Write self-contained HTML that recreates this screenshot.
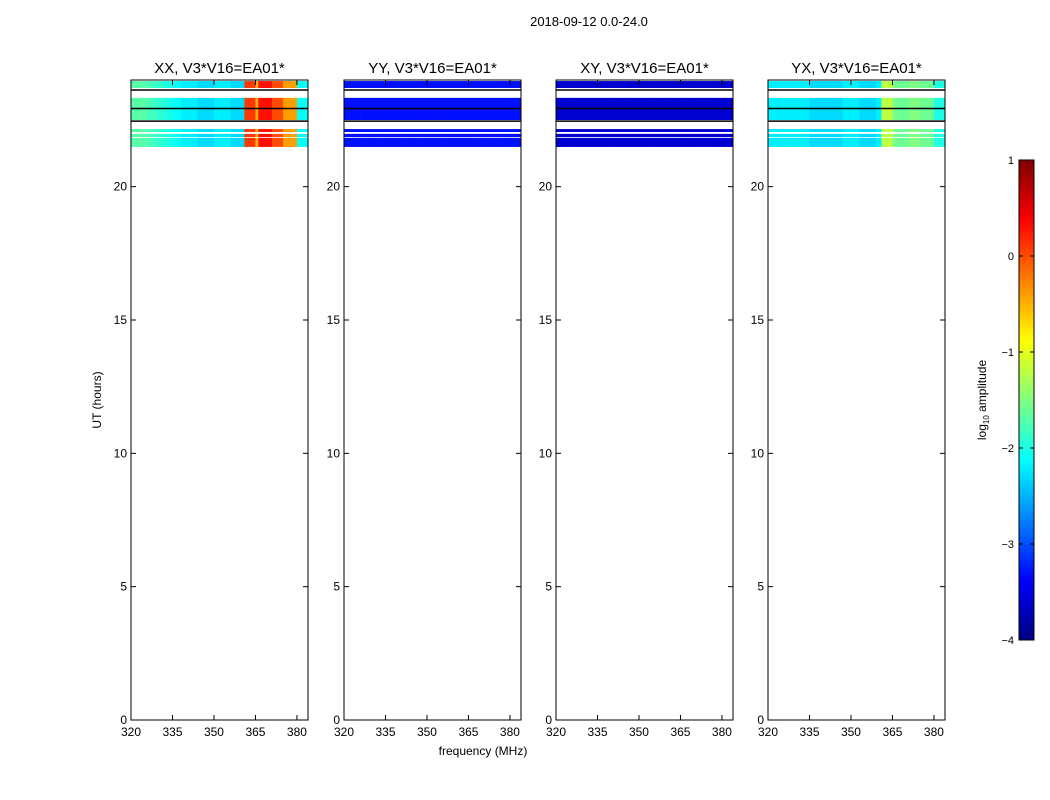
<!DOCTYPE html>
<html><head><meta charset="utf-8"><style>
body{margin:0;background:#fff;}
svg{display:block;font-family:"Liberation Sans",sans-serif;}
</style></head><body>
<svg id="fig" width="1050" height="800">
<text x="589" y="26" font-size="13" text-anchor="middle">2018-09-12 0.0-24.0</text>
<text x="483" y="755" font-size="12" text-anchor="middle">frequency (MHz)</text>
<text transform="translate(101,400) rotate(-90)" font-size="12" text-anchor="middle">UT (hours)</text>
</svg>
<script>
const panelNames = ["XX, V3*V16=EA01*","YY, V3*V16=EA01*","XY, V3*V16=EA01*","YX, V3*V16=EA01*"];
const freqEdges = [320,323,326,329,332,335,338,341,344,347,350,353,356,359,361,365,366,371,375,380,384];
const xxAmp = [-1.7,-1.7,-1.8,-1.9,-2.0,-2.1,-2.2,-2.2,-2.3,-2.3,-2.2,-2.2,-2.3,-2.3,0.1,-0.5,0.3,0.0,-0.4,-2.1];
const yyAmp = [-3.3,-3.3,-3.3,-3.3,-3.3,-3.3,-3.3,-3.3,-3.3,-3.3,-3.3,-3.3,-3.3,-3.3,-3.3,-3.3,-3.3,-3.3,-3.3,-3.3];
const xyAmp = [-3.6,-3.6,-3.6,-3.6,-3.6,-3.6,-3.6,-3.6,-3.6,-3.6,-3.6,-3.6,-3.6,-3.6,-3.6,-3.6,-3.6,-3.6,-3.6,-3.6];
const yxAmp = [-2.2,-2.2,-2.2,-2.2,-2.2,-2.3,-2.3,-2.3,-2.3,-2.2,-2.2,-2.3,-2.3,-2.2,-1.2,-1.5,-1.6,-1.5,-1.6,-2.0];
const bandStart = [23.7,22.5,22.05,21.86,21.49];
const bandEnd = [23.96,23.33,22.16,21.98,21.83];
const flagLines = [23.625,22.93,22.46];
const xTicks = [320,335,350,365,380];
const yTicks = [0,5,10,15,20];
const cbTicks = [-4,-3,-2,-1,0,1];

const NS="http://www.w3.org/2000/svg";
const svg=document.getElementById('fig');
function mk(t,a,p){const e=document.createElementNS(NS,t);for(const k in a)e.setAttribute(k,a[k]);(p||svg).appendChild(e);return e;}
function jet(v){
  const r=Math.min(Math.max(1.5-Math.abs(4*v-3),0),1);
  const g=Math.min(Math.max(1.5-Math.abs(4*v-2),0),1);
  const b=Math.min(Math.max(1.5-Math.abs(4*v-1),0),1);
  return `rgb(${Math.round(r*255)},${Math.round(g*255)},${Math.round(b*255)})`;
}
function amp2c(a){return jet((a+4)/5);}
const panelX=[131,344,556,768], pw=177, topY=80, botY=720;
const amps=[xxAmp,yyAmp,xyAmp,yxAmp];
panelNames.forEach((name,pi)=>{
  const x0=panelX[pi];
  const xs=f=>x0+(f-320)*(pw/64);
  const ys=h=>botY-(h/24)*(botY-topY);
  const g=mk('g',{});
  
  
  bandStart.forEach((bs,bi)=>{
    for(let fi=0;fi<freqEdges.length-1;fi++){
      const r=mk('rect',{x:xs(freqEdges[fi]),y:ys(bandEnd[bi]),width:xs(freqEdges[fi+1])-xs(freqEdges[fi])+0.3,height:ys(bs)-ys(bandEnd[bi]),fill:amp2c(amps[pi][fi])},g);
      
      
    }
  });
  flagLines.forEach(h=>{
    const l=mk('line',{x1:x0,x2:x0+pw,y1:ys(h),y2:ys(h),stroke:'#000','stroke-width':1.5},g);
    
    
  });
  const fr=mk('rect',{x:x0,y:topY,width:pw,height:botY-topY,fill:'none',stroke:'#000','stroke-width':1},g);
  
  
  xTicks.forEach(t=>{
    const x=xs(t);
    mk('line',{x1:x,x2:x,y1:botY,y2:botY-5,stroke:'#000'},g);
    mk('line',{x1:x,x2:x,y1:topY,y2:topY+5,stroke:'#000'},g);
    const tx=mk('text',{x:x,y:botY+16,'font-size':12,'text-anchor':'middle'},g);tx.textContent=t;
    
    
  });
  yTicks.forEach(t=>{
    const y=ys(t);
    mk('line',{x1:x0,x2:x0+5,y1:y,y2:y,stroke:'#000'},g);
    mk('line',{x1:x0+pw,x2:x0+pw-5,y1:y,y2:y,stroke:'#000'},g);
    const tx=mk('text',{x:x0-4,y:y+4,'font-size':12,'text-anchor':'end'},g);tx.textContent=t;
    
    
  });
  const tt=mk('text',{x:x0+pw/2,y:73,'font-size':15,'text-anchor':'middle'},g);tt.textContent=name;
  
  
});
const cbx=1019,cbw=15,cbt=160,cbb=640;
const cg=mk('g',{});


const N=120;
for(let i=0;i<N;i++){
  const v=i/N;
  mk('rect',{x:cbx,y:cbb-(i+1)*(cbb-cbt)/N,width:cbw,height:(cbb-cbt)/N+0.5,fill:jet(v+0.5/N)},cg);
}
mk('rect',{x:cbx,y:cbt,width:cbw,height:cbb-cbt,fill:'none',stroke:'#000'},cg);
cbTicks.forEach(t=>{
  const y=cbb-(t+4)/5*(cbb-cbt);
  mk('line',{x1:cbx,x2:cbx+4,y1:y,y2:y,stroke:'#000'},cg);
  mk('line',{x1:cbx+cbw,x2:cbx+cbw-4,y1:y,y2:y,stroke:'#000'},cg);
  const tx=mk('text',{x:cbx-5,y:y+4,'font-size':11,'text-anchor':'end'},cg);tx.textContent=(t<0?'\u2212'+(-t):t);
  
  
});
const cl=mk('text',{transform:'translate(986,400) rotate(-90)','font-size':12,'text-anchor':'middle'},cg);
cl.innerHTML='log<tspan font-size="8" dy="3">10</tspan><tspan dy="-3"> amplitude</tspan>';


</script>
</body></html>
